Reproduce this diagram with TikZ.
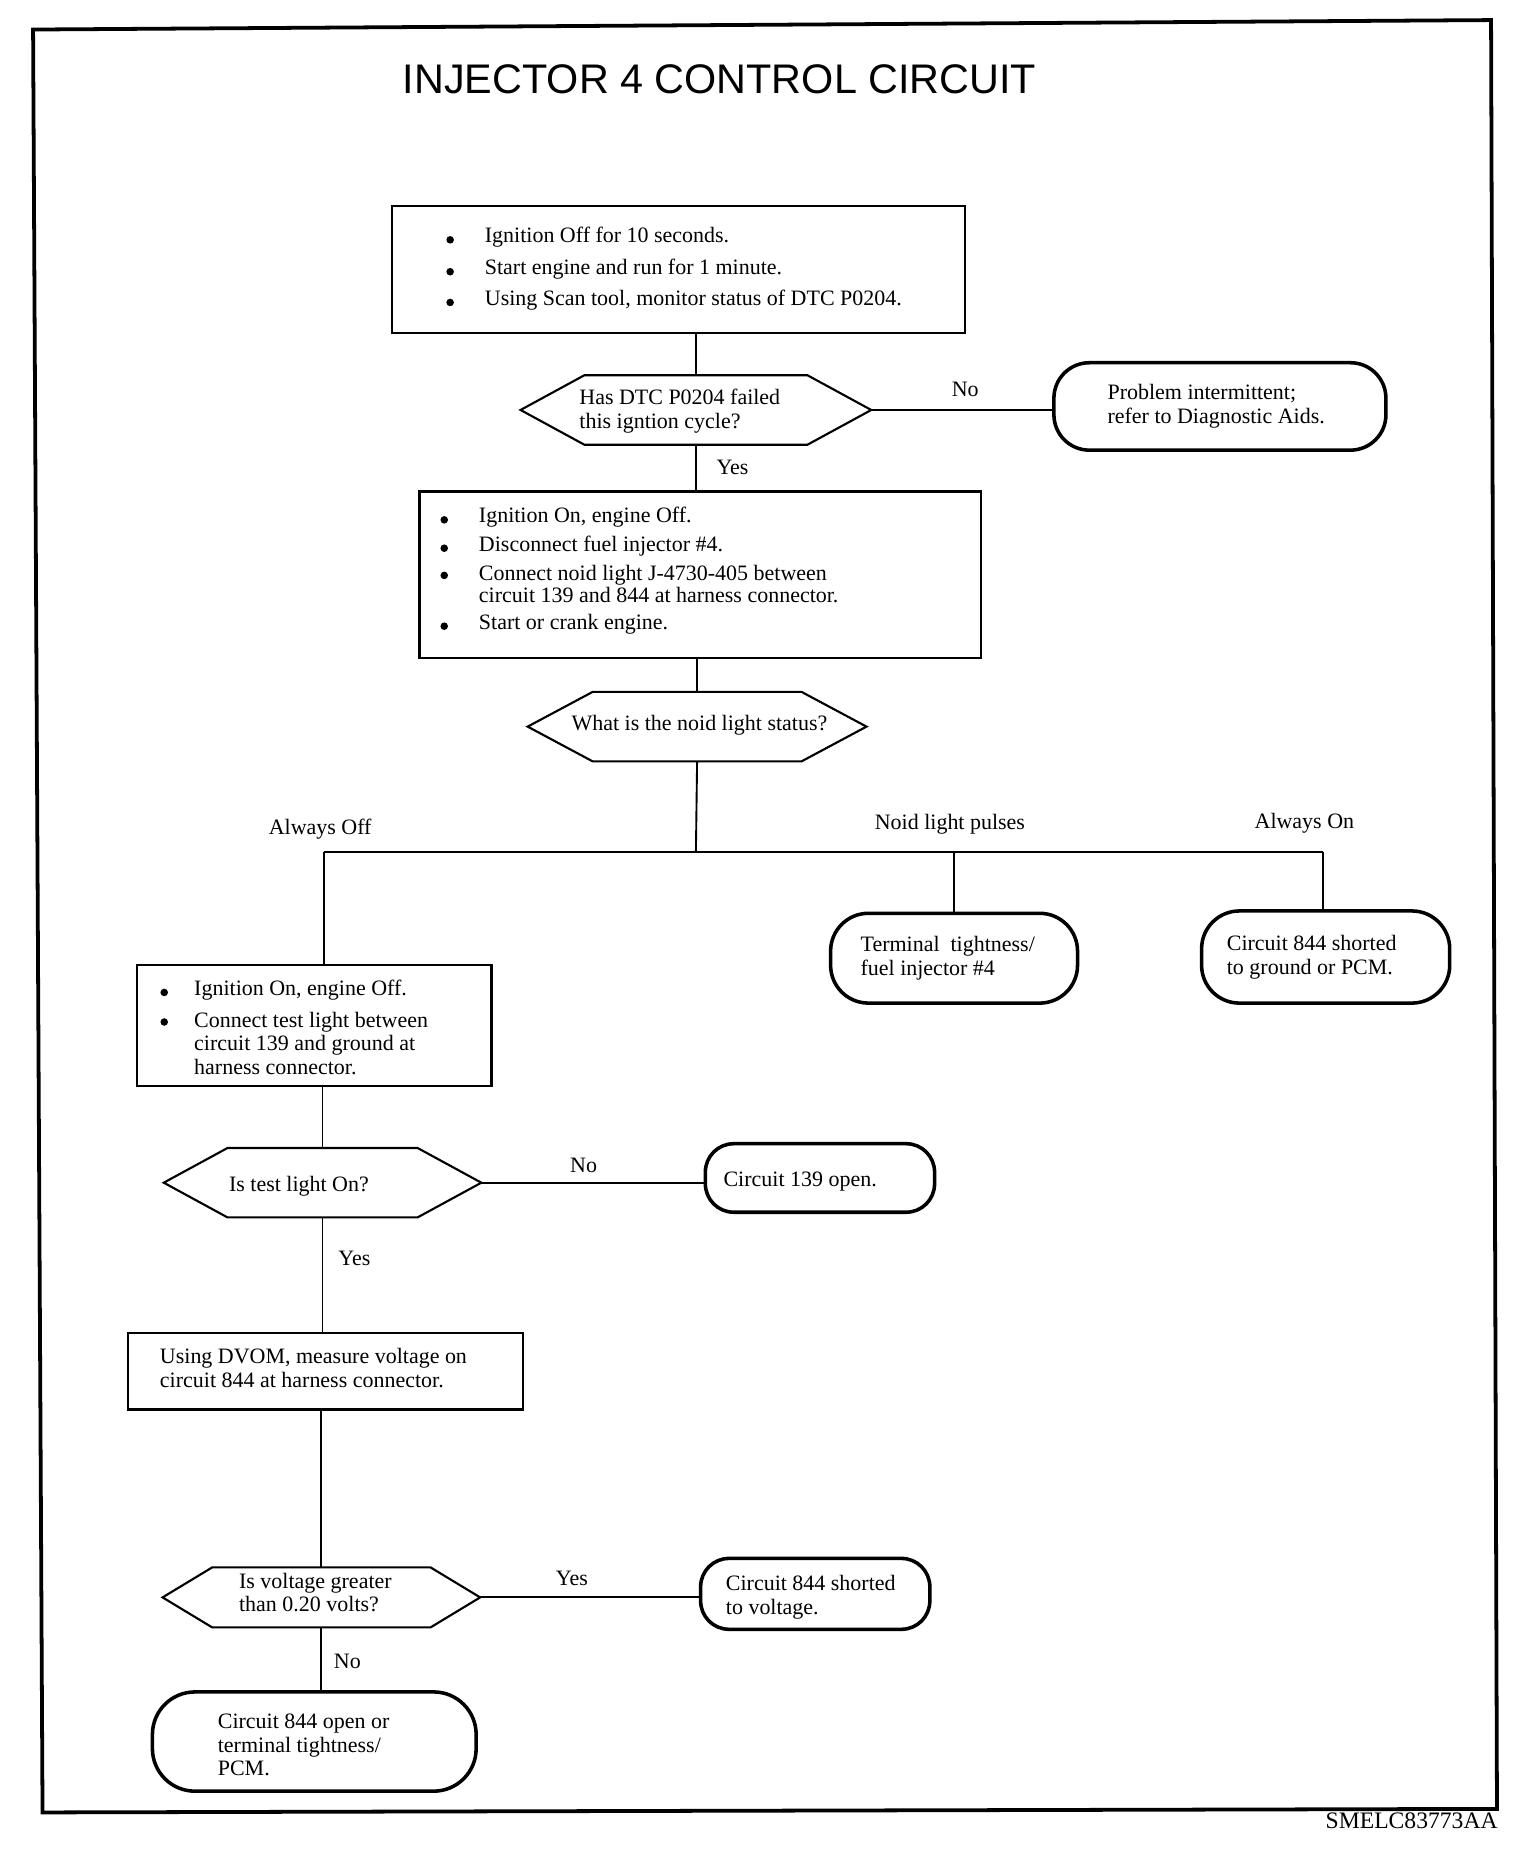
\documentclass[tikz,border=0pt]{standalone}
\usepackage{fontspec}
\setmainfont{Liberation Serif}
\newfontfamily\titlefont{Liberation Sans}
\begin{document}
\begin{tikzpicture}[x=0.5pt,y=-0.5pt,
 box/.style={draw, line width=0.9pt, inner sep=0},
 term/.style={draw, line width=1.5pt, rounded corners=#1, inner sep=0},
 hexbox/.style={inner sep=0},
 hexline/.style={line width=0.9pt},
 conn/.style={line width=0.8pt},
 dot/.style={circle, fill, inner sep=0, minimum size=3.2pt},
 txt/.style={font=\fontsize{9.3}{10}\selectfont, inner sep=0, anchor=west, align=left},
 lbl/.style={font=\fontsize{9.3}{10}\selectfont, inner sep=0},
 ]
\useasboundingbox (0,0) rectangle (1300,1567.5);
% frame
\draw[line width=1.6pt] (28,25) -- (1262,17) -- (1267,1531) -- (36,1534) -- cycle;
\node[font=\titlefont\fontsize{17.5}{20}\selectfont, inner sep=0] (title) at (609,67) {INJECTOR 4 CONTROL CIRCUIT};
\node[font=\fontsize{10}{12}\selectfont, inner sep=0, anchor=east] (code) at (1268,1541) {SMELC83773AA};

% boxes
\node[box, minimum width=242.5pt, minimum height=54pt] (box1) at (574.5,228) {};
\node[box, minimum width=237.5pt, minimum height=70.5pt] (box2) at (592.5,486.5) {};
\node[box, minimum width=150pt, minimum height=51pt] (box3) at (266,868) {};
\node[box, minimum width=167.5pt, minimum height=32.5pt] (box4) at (275.5,1160.5) {};

% hexagons
\node[hexbox, minimum width=148pt, minimum height=29pt] (d1) at (589,347) {};
\node[hexbox, minimum width=143pt, minimum height=29pt] (d2) at (590,615) {};
\node[hexbox, minimum width=134pt, minimum height=29pt] (d3) at (273,1001) {};
\node[hexbox, minimum width=134pt, minimum height=25pt] (d4) at (272,1352) {};
\foreach \d/\s in {d1/27pt,d2/27.5pt,d3/27pt,d4/21pt}{
 \draw[hexline] ([xshift=\s]\d.north west) -- ([xshift=-\s]\d.north east) -- (\d.east)
   -- ([xshift=-\s]\d.south east) -- ([xshift=\s]\d.south west) -- (\d.west) -- cycle;
}

% terminals
\node[term=15pt, minimum width=140.5pt, minimum height=37pt] (t1) at (1032.5,344) {};
\node[term=16pt, minimum width=104.5pt, minimum height=38pt] (t2) at (807.5,811) {};
\node[term=16pt, minimum width=105pt, minimum height=39pt] (t3) at (1122,810) {};
\node[term=12pt, minimum width=97pt, minimum height=29pt] (t4) at (694,997) {};
\node[term=12pt, minimum width=97pt, minimum height=30pt] (t5) at (690,1349) {};
\node[term=18pt, minimum width=137pt, minimum height=42pt] (t6) at (266,1474) {};

% texts box1
\node[dot] (b1a) at (381,203) {};
\node[dot] (b1b) at (381,230) {};
\node[dot] (b1c) at (381,256) {};
\node[txt] (b1t1) at (410,201) {Ignition Off for 10 seconds.};
\node[txt] (b1t2) at (410,228) {Start engine and run for 1 minute.};
\node[txt] (b1t3) at (410,254) {Using Scan tool, monitor status of DTC P0204.};
% d1, t1
\node[txt] (d1t) at (490,348) {Has DTC P0204 failed\\this igntion cycle?};
\node[txt] (t1t) at (937,344) {Problem intermittent;\\refer to Diagnostic Aids.};
% box2
\node[dot] (b2a) at (376,440) {};
\node[dot] (b2b) at (376,464) {};
\node[dot] (b2c) at (376,487) {};
\node[dot] (b2d) at (376,530) {};
\node[txt] (b2t1) at (405,438) {Ignition On, engine Off.};
\node[txt] (b2t2) at (405,462) {Disconnect fuel injector \#4.};
\node[txt, font=\fontsize{9.3}{9.2}\selectfont] (b2t3) at (405,494) {Connect noid light J-4730-405 between\\circuit 139 and 844 at harness connector.};
\node[txt] (b2t4) at (405,528) {Start or crank engine.};
% d2
\node[lbl] (d2t) at (592,614) {What is the noid light status?};
% t2 t3
\node[txt] (t2t) at (728,811) {Terminal~ tightness/\\fuel injector \#4};
\node[txt] (t3t) at (1038,810) {Circuit 844 shorted\\to ground or PCM.};
% box3
\node[dot] (b3a) at (139,840) {};
\node[dot] (b3b) at (139,865) {};
\node[txt] (b3t1) at (164,838) {Ignition On, engine Off.};
\node[txt] (b3t2) at (164,883) {Connect test light between\\circuit 139 and ground at\\harness connector.};
% d3 t4
\node[lbl] (d3t) at (253,1004) {Is test light On?};
\node[txt] (t4t) at (612,1000) {Circuit 139 open.};
% box4
\node[txt] (b4t) at (135,1158) {Using DVOM, measure voltage on\\circuit 844 at harness connector.};
% d4 t5 t6
\node[txt] (d4t) at (202,1348) {Is voltage greater\\than 0.20 volts?};
\node[txt] (t5t) at (614,1352) {Circuit 844 shorted\\to voltage.};
\node[txt] (t6t) at (184,1477) {Circuit 844 open or\\terminal tightness/\\PCM.};

% labels
\node[lbl] (lno1) at (817,330) {No};
\node[lbl] (lyes1) at (620,396) {Yes};
\node[lbl] (loff) at (271,702) {Always Off};
\node[lbl] (lpul) at (804,698) {Noid light pulses};
\node[lbl] (lon) at (1104,697) {Always On};
\node[lbl] (lno2) at (494,986) {No};
\node[lbl] (lyes2) at (300,1065) {Yes};
\node[lbl] (lyes3) at (484,1336) {Yes};
\node[lbl] (lno3) at (294,1406) {No};

% connectors
\coordinate (j) at (589,721);
\coordinate (jl) at (274,721);
\coordinate (jr) at (1120,721);
\draw[conn] (d1.north |- box1.south) -- (d1.north);
\draw[conn] (d1.east) -- (d1.east -| t1.west);
\draw[conn] (d1.south) -- (d1.south |- box2.north);
\draw[conn] (d2.north |- box2.south) -- (d2.north);
\draw[conn] (d2.south) -- (j);
\draw[conn] (jl) -- (jr);
\draw[conn] (jl) -- (jl |- box3.north);
\draw[conn] (t2.north |- j) -- (t2.north);
\draw[conn] (jr) -- (jr |- t3.north);
\draw[conn] (d3.north |- box3.south) -- (d3.north);
\draw[conn] (d3.east) -- (d3.east -| t4.west);
\draw[conn] (d3.south) -- (d3.south |- box4.north);
\draw[conn] (d4.north |- box4.south) -- (d4.north);
\draw[conn] (d4.east) -- (d4.east -| t5.west);
\draw[conn] (d4.south) -- (d4.south |- t6.north);
\end{tikzpicture}
\end{document}
